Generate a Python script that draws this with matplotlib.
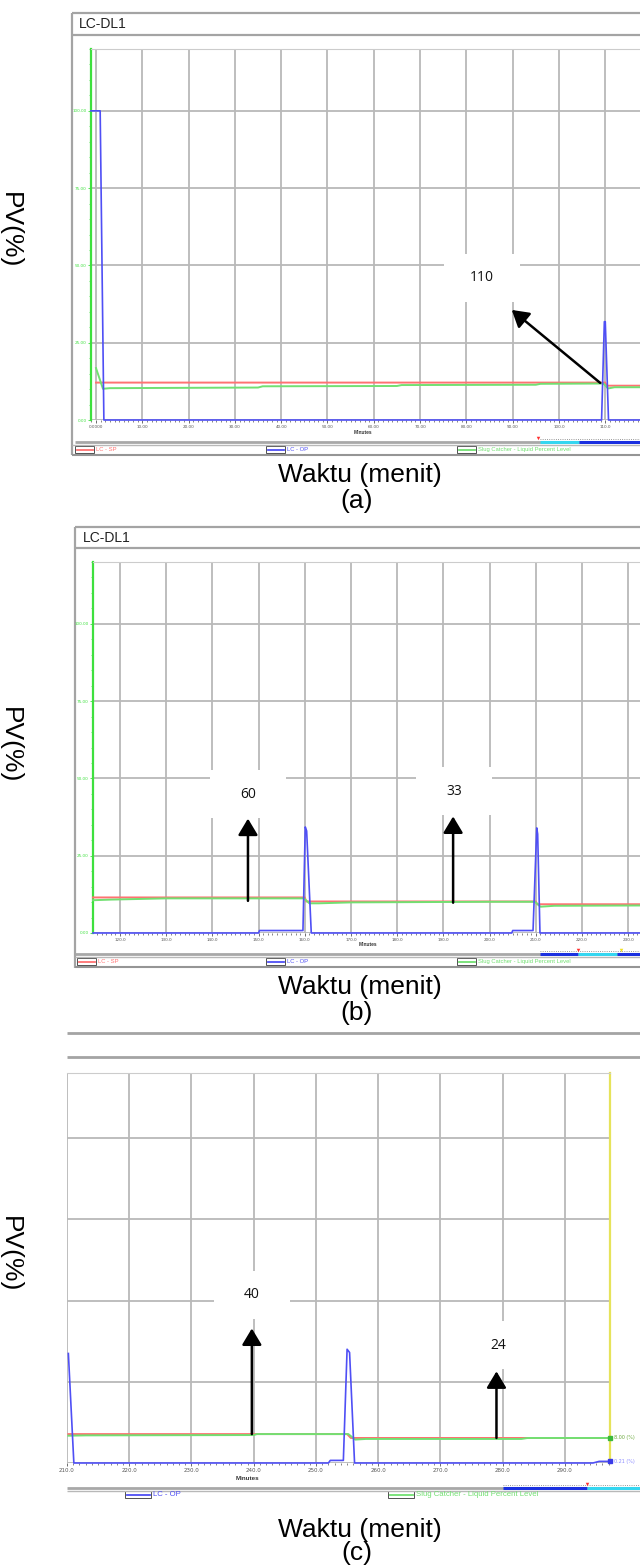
import matplotlib
matplotlib.use("Agg")
import matplotlib.pyplot as plt
from matplotlib.patches import Rectangle
from matplotlib.ticker import MultipleLocator

# ---------------- data ----------------
series_names = ["LC - SP", "LC - OP", "Slug Catcher - Liquid Percent Level"]

# Panel (a)
a_op_t = [-1.08, 0.9, 1.7, 109.2, 109.8, 110.0, 110.7, 117.5]
a_op_v = [100, 100, 0, 0, 31.8, 31.8, 0, 0]
a_sp_t = [0.0, 110.0, 110.3, 117.5]
a_sp_v = [12.1, 12.1, 11.1, 11.1]
a_pv_t = [0.0, 1.5, 3.0, 35.0, 36.0, 65.0, 66.0, 95.0, 96.0, 109.6, 110.6, 112.0, 117.5]
a_pv_v = [16.8, 10.1, 10.3, 10.5, 10.9, 11.0, 11.3, 11.4, 11.7, 11.8, 10.2, 10.6, 10.6]
a_xticks = [0, 10, 20, 30, 40, 50, 60, 70, 80, 90, 100, 110]
a_xlabels = ["0.0000", "10.00", "20.00", "30.00", "40.00", "50.00", "60.00",
             "70.00", "80.00", "90.00", "100.0", "110.0"]

# Panel (b)
b_op_t = [114.16, 150.0, 150.2, 159.6, 160.1, 160.4, 161.4, 204.8, 205.0, 209.4, 210.2, 210.4, 210.9, 232.55]
b_op_v = [0, 0, 0.8, 0.8, 34.3, 33.0, 0, 0, 0.8, 0.8, 34.0, 32.0, 0, 0]
b_sp_t = [114.16, 160.0, 160.3, 210.0, 210.3, 232.55]
b_sp_v = [11.5, 11.5, 10.2, 10.2, 9.3, 9.3]
b_pv_t = [114.16, 118.0, 130.0, 159.8, 161.0, 163.0, 170.0, 200.0, 209.8, 211.0, 214.0, 232.55]
b_pv_v = [10.6, 10.8, 11.2, 11.2, 9.6, 9.6, 9.9, 10.1, 10.1, 8.5, 8.8, 8.9]
b_xticks = [120, 130, 140, 150, 160, 170, 180, 190, 200, 210, 220, 230]
b_xlabels = ["120.0", "130.0", "140.0", "150.0", "160.0", "170.0", "180.0",
             "190.0", "200.0", "210.0", "220.0", "230.0"]

# Panel (c)
c_op_t = [210.22, 211.1, 252.0, 252.3, 254.4, 255.0, 255.4, 256.2, 294.5, 295.5, 297.24]
c_op_v = [33.7, 0, 0, 0.8, 0.8, 35.0, 34.0, 0, 0, 0.5, 0.5]
c_sp_t = [210.22, 255.0, 255.6, 297.24]
c_sp_v = [8.9, 8.9, 7.7, 7.7]
c_pv_t = [210.22, 213.0, 240.0, 240.5, 255.2, 256.3, 258.0, 283.0, 284.0, 297.24]
c_pv_v = [8.4, 8.5, 8.6, 8.9, 8.9, 7.2, 7.4, 7.4, 7.7, 7.7]
c_xticks = [210, 220, 230, 240, 250, 260, 270, 280, 290]
c_xlabels = ["210.0", "220.0", "230.0", "240.0", "250.0", "260.0", "270.0", "280.0", "290.0"]
c_pv_label = "8.00 (%)"
c_op_label = "0.21 (%)"

y_ticks = [0, 25, 50, 75, 100]
y_labels = ["0.00", "25.00", "50.00", "75.00", "100.00"]

# annotations: label, text position, arrow tail, arrow head (data coordinates)
a_note_labels = ["110"]
a_note_text = [(83.4, 46.0)]
a_note_tail = [(108.9, 12.0)]
a_note_head = [(89.8, 35.6)]

b_note_labels = ["60", "33"]
b_note_text = [(147.7, 44.8), (192.3, 45.8)]
b_note_tail = [(147.7, 10.4), (192.1, 9.8)]
b_note_head = [(147.7, 37.0), (192.1, 37.7)]

c_note_labels = ["40", "24"]
c_note_text = [(239.7, 51.8), (279.3, 36.2)]
c_note_tail = [(239.7, 8.9), (279.0, 7.7)]
c_note_head = [(239.7, 41.4), (279.0, 28.2)]

# ---------------- figure ----------------
W, H = 640, 1566
fig = plt.figure(figsize=(W / 100, H / 100), dpi=100)
fig.patch.set_facecolor("white")

RED = "#ff7272"
BLUE = "#4f4ff5"
GREEN = "#72e072"
GRID = "#b9b9b9"
AXG = "#3ee03e"
FRAME = "#a4a4a4"
SANS = ["Liberation Sans", "DejaVu Sans"]


def frac(x0, y0, x1, y1):
    return [x0 / W, 1 - y1 / H, (x1 - x0) / W, (y1 - y0) / H]


ov = fig.add_axes([0, 0, 1, 1], zorder=0)
ov.set_xlim(0, W)
ov.set_ylim(H, 0)
ov.axis("off")
ov.patch.set_alpha(0)


def hline(x0, x1, y, color=FRAME, lw=1.2, ls="-"):
    ov.plot([x0, x1], [y, y], color=color, lw=lw, ls=ls, solid_capstyle="butt")


def vline(x, y0, y1, color=FRAME, lw=1.2):
    ov.plot([x, x], [y0, y1], color=color, lw=lw, solid_capstyle="butt")


def legend_row(y, items, fs):
    for (x, wbox, color, name) in items:
        ov.add_patch(Rectangle((x, y - 3.5), wbox, 7, fc="white", ec="#505050", lw=0.7))
        ov.plot([x + 1.5, x + wbox - 1.5], [y + 0.3, y + 0.3], color=color, lw=1.3)
        ov.text(x + wbox + 2, y, name, fontsize=fs, color=color, va="center",
                ha="left", family=SANS)


def captions(ycap, ylab, letter, ypv):
    ov.text(360, ycap, "Waktu (menit)", fontsize=19, ha="center", va="center",
            family=SANS, color="black")
    ov.text(357, ylab, letter, fontsize=19, ha="center", va="center",
            family=SANS, color="black")
    ov.text(10, ypv, "PV(%)", fontsize=19, ha="center", va="center",
            rotation=-90, family=SANS, color="black")


def panel(box, xlim, xticks, xlabels, op, sp, pv, notes, show_y=True,
          cursor=False, tick_fs=3.0):
    x0, y0, x1, y1 = box
    ax = fig.add_axes(frac(*box), zorder=2)
    ax.set_facecolor("white")
    ax.set_xlim(*xlim)
    ax.set_ylim(0, 120)
    ax.set_xticks(xticks)
    ax.set_xticklabels(xlabels)
    ax.xaxis.set_minor_locator(MultipleLocator(1))
    ax.set_yticks(y_ticks)
    ax.grid(True, which="major", color=GRID, lw=1.3)
    ax.set_axisbelow(True)
    ax.tick_params(axis="x", which="major", labelsize=tick_fs, colors="#555555",
                   length=2, width=0.6, pad=1.5)
    ax.tick_params(axis="x", which="minor", colors="#555555", length=1.5, width=0.5)
    for s in ["top", "right", "left", "bottom"]:
        ax.spines[s].set_visible(False)
    ax.spines["top"].set_visible(True)
    ax.spines["top"].set_color("#cccccc")
    if show_y:
        ax.set_yticklabels(y_labels)
        ax.yaxis.set_minor_locator(MultipleLocator(5))
        ax.spines["left"].set_visible(True)
        ax.spines["left"].set_color(AXG)
        ax.spines["left"].set_linewidth(1.6)
        ax.tick_params(axis="y", which="major", labelsize=3, colors=AXG,
                       length=2, width=0.6, pad=1)
        ax.tick_params(axis="y", which="minor", colors=AXG, length=1.2, width=0.5)
    else:
        ax.tick_params(axis="y", which="both", left=False, labelleft=False)
    if cursor:
        ax.spines["right"].set_visible(True)
        ax.spines["right"].set_color("#e6e35a")
        ax.spines["right"].set_linewidth(1.6)

    ax.plot(sp[0], sp[1], color=RED, lw=1.4, zorder=3, clip_on=False)
    ax.plot(pv[0], pv[1], color=GREEN, lw=1.4, zorder=3.1, clip_on=False)
    ax.plot(op[0], op[1], color=BLUE, lw=1.2, zorder=3.2, clip_on=False)

    pxx = (x1 - x0) / (xlim[1] - xlim[0])
    pxy = (y1 - y0) / 120.0
    hw, hh = 38 / pxx, 24 / pxy
    labels, texts, tails, heads = notes
    for lab, (tx, ty), tail, head in zip(labels, texts, tails, heads):
        ax.add_patch(Rectangle((tx - hw, ty - hh), 2 * hw, 2 * hh, fc="white",
                               ec="none", zorder=2.5))
        ax.text(tx, ty, lab, fontsize=10, ha="center", va="center",
                family=["Open Sans", "DejaVu Sans"], color="#111111", zorder=4)
        ax.annotate("", xy=head, xytext=tail, zorder=4,
                    arrowprops=dict(arrowstyle="-|>,head_length=0.5,head_width=0.3",
                                    color="black", lw=1.8, mutation_scale=20,
                                    shrinkA=0, shrinkB=0))
    return ax


# ---------------- panel (a) ----------------
hline(72, 640, 13, lw=1.6)
hline(72, 640, 35, lw=1.6)
vline(72, 13, 455, lw=1.6)
ov.text(79, 24.5, "LC-DL1", fontsize=10, va="center", ha="left", family=SANS, color="#222222")
panel((91, 49, 640, 420), (-1.08, 117.5), a_xticks, a_xlabels,
      (a_op_t, a_op_v), (a_sp_t, a_sp_v), (a_pv_t, a_pv_v),
      (a_note_labels, a_note_text, a_note_tail, a_note_head))
ov.text(363, 433, "Minutes", fontsize=3.5, fontweight="bold", ha="center", va="center",
        family=SANS, color="#333333")
hline(75, 640, 441.5, color="#a8a8a8", lw=2.0)
hline(540, 640, 439, color="#777777", lw=0.6, ls=":")
hline(540, 579, 441.8, color="#35d6f0", lw=2.2)
hline(579, 640, 441.8, color="#1a30e0", lw=2.2)
ov.plot([538], [437.5], marker="v", ms=2.5, color="#ff3030", mec="none")
hline(72, 640, 444.5, color="#b8b8b8", lw=1.0)
hline(72, 640, 454.5, color="#959595", lw=1.5)
legend_row(449.5, [(75, 19, RED, series_names[0]), (266, 19, BLUE, series_names[1]),
                   (457, 19, GREEN, series_names[2])], 4.2)
captions(475, 501, "(a)", 230)

# ---------------- panel (b) ----------------
hline(75, 640, 527, lw=1.6)
hline(75, 640, 548, lw=1.6)
vline(75, 527, 968, lw=1.6)
ov.text(83, 538, "LC-DL1", fontsize=10, va="center", ha="left", family=SANS, color="#222222")
panel((93, 562, 640, 933), (114.16, 232.55), b_xticks, b_xlabels,
      (b_op_t, b_op_v), (b_sp_t, b_sp_v), (b_pv_t, b_pv_v),
      (b_note_labels, b_note_text, b_note_tail, b_note_head))
ov.text(368, 945, "Minutes", fontsize=3.5, fontweight="bold", ha="center", va="center",
        family=SANS, color="#333333")
hline(75, 640, 953.5, color="#a8a8a8", lw=2.0)
hline(540, 640, 951, color="#777777", lw=0.6, ls=":")
hline(540, 578, 953.8, color="#1a30e0", lw=2.2)
hline(578, 617, 953.8, color="#35d6f0", lw=2.2)
hline(617, 640, 953.8, color="#1a30e0", lw=2.2)
ov.plot([578], [949.5], marker="v", ms=2.5, color="#ff3030", mec="none")
ov.plot([621], [949.5], marker="v", ms=2.5, color="#f0e020", mec="none")
hline(75, 640, 956.5, color="#b8b8b8", lw=1.0)
hline(75, 640, 967, color="#959595", lw=1.5)
legend_row(961.8, [(77, 19, RED, series_names[0]), (266, 19, BLUE, series_names[1]),
                   (457, 19, GREEN, series_names[2])], 4.2)
captions(987, 1013, "(b)", 745)

# ---------------- panel (c) ----------------
hline(67, 640, 1033, lw=2.0)
hline(67, 640, 1057, lw=2.0)
axc = panel((67, 1073, 610, 1463), (210.22, 297.24), c_xticks, c_xlabels,
            (c_op_t, c_op_v), (c_sp_t, c_sp_v), (c_pv_t, c_pv_v),
            (c_note_labels, c_note_text, c_note_tail, c_note_head),
            show_y=False, cursor=True, tick_fs=4.0)
axc.plot([c_pv_t[-1]], [c_pv_v[-1]], marker="s", ms=2.2, color="#3cb83c", clip_on=False, zorder=5)
axc.plot([c_op_t[-1]], [c_op_v[-1]], marker="s", ms=2.2, color="#3a3ae8", clip_on=False, zorder=5)
axc.annotate(c_pv_label, (c_pv_t[-1], c_pv_v[-1]), xytext=(3, 0), textcoords="offset points",
             fontsize=3.5, color="#6aa83a", va="center", ha="left", annotation_clip=False)
axc.annotate(c_op_label, (c_op_t[-1], c_op_v[-1]), xytext=(3, 0), textcoords="offset points",
             fontsize=3.5, color="#8a8aff", va="center", ha="left", annotation_clip=False)
ov.text(247, 1478, "Minutes", fontsize=4.5, fontweight="bold", ha="center", va="center",
        family=SANS, color="#333333")
hline(67, 640, 1487.5, color="#a8a8a8", lw=2.0)
hline(503, 640, 1485, color="#777777", lw=0.6, ls=":")
hline(503, 587, 1487.8, color="#1a30e0", lw=2.2)
hline(587, 640, 1487.8, color="#35d6f0", lw=2.2)
ov.plot([587], [1483.5], marker="v", ms=2.5, color="#ff3030", mec="none")
hline(67, 640, 1490.5, color="#b8b8b8", lw=1.0)
legend_row(1494.5, [(125, 26, BLUE, series_names[1]), (388, 26, GREEN, series_names[2])], 5.6)
captions(1530, 1553, "(c)", 1254)

fig.savefig("out.png", dpi=100, facecolor="white")
